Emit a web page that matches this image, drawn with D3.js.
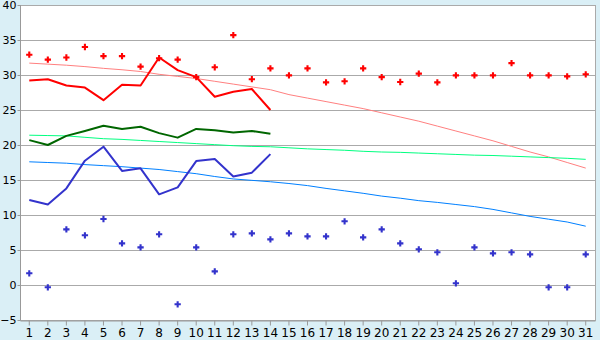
<!DOCTYPE html>
<html>
<head>
<meta charset="utf-8">
<script src="https://cdn.jsdelivr.net/npm/d3@7"></script>
<style>
  body { margin: 0; background: #daeff6; }
  svg { display: block; }
  .axis text { font-family: "DejaVu Sans", sans-serif; font-size: 12px; fill: #000; }
  .axis.y text { font-size: 11px; }
  .axis path, .axis line { stroke: #999; }
</style>
</head>
<body>
<svg id="chart" width="600" height="340"></svg>
<script>
const days = d3.range(1, 32)
const yTicks = [-5, 0, 5, 10, 15, 20, 25, 30, 35, 40]

// daily highs (scatter) and the 14-day red line
const redDots = [32.9, 32.2, 32.5, 34.0, 32.7, 32.7, 31.2, 32.4, 32.2, 29.7, 31.1, 35.7, 29.4, 30.95, 29.95, 30.95,
  28.95, 29.1, 30.95, 29.7, 29.0, 30.2, 28.95, 29.95, 29.95, 29.95, 31.7, 29.95, 29.95, 29.8, 30.1]
const redLine = [29.2, 29.4, 28.5, 28.2, 26.4, 28.6, 28.5, 32.5, 30.7, 29.7, 26.9, 27.6, 28.0, 25.0]
const redTrend = [31.7, 31.55, 31.4, 31.2, 30.95, 30.75, 30.5, 30.1, 29.8, 29.5, 29.1, 28.7, 28.3, 27.9, 27.2, 26.7,
  26.2, 25.7, 25.2, 24.6, 24.0, 23.4, 22.7, 22.0, 21.3, 20.6, 19.8, 19.0, 18.3, 17.5, 16.7]

const greenLine = [20.7, 20.0, 21.3, 22.0, 22.75, 22.3, 22.6, 21.7, 21.05, 22.3, 22.1, 21.8, 22.0, 21.6]
const greenTrend = [21.4, 21.35, 21.3, 21.1, 20.9, 20.8, 20.65, 20.5, 20.35, 20.2, 20.05, 19.9, 19.8, 19.75, 19.6, 19.45,
  19.35, 19.25, 19.1, 19.0, 18.95, 18.85, 18.75, 18.65, 18.55, 18.5, 18.4, 18.3, 18.2, 18.1, 17.95]

// daily lows (scatter) and the 14-day blue line
const blueDots = [1.67, -0.33, 7.95, 7.1, 9.43, 5.95, 5.38, 7.24, -2.76, 5.38, 1.95, 7.24, 7.38, 6.52, 7.38, 6.95,
  6.95, 9.1, 6.81, 7.95, 5.95, 5.1, 4.67, 0.24, 5.38, 4.52, 4.67, 4.38, -0.33, -0.33, 4.38]
const blueLine = [12.14, 11.5, 13.8, 17.76, 19.76, 16.3, 16.67, 12.95, 13.95, 17.7, 18.0, 15.5, 16.05, 18.7]
const blueTrend = [17.6, 17.5, 17.4, 17.2, 17.05, 16.9, 16.7, 16.5, 16.2, 15.9, 15.5, 15.15, 14.95, 14.75, 14.5, 14.2,
  13.8, 13.45, 13.1, 12.7, 12.4, 12.05, 11.8, 11.5, 11.2, 10.8, 10.3, 9.8, 9.4, 9.0, 8.4]

const plotLeft = 20, plotRight = 595, plotTop = 5, plotBottom = 320

const svg = d3.select('#chart')

const xScale = d3.scaleBand()
  .domain(days)
  .range([plotLeft, plotRight])
const xc = d => xScale(d) + xScale.bandwidth() / 2

const yScale = d3.scaleLinear()
  .domain([-5, 40])
  .range([plotBottom, plotTop])

svg.append('rect')
  .attr('x', plotLeft + 0.5)
  .attr('y', plotTop + 0.5)
  .attr('width', plotRight - plotLeft)
  .attr('height', plotBottom - plotTop)
  .style('fill', '#fff')
  .style('stroke', '#aaa')

// gridlines
svg.append('g')
  .selectAll('line')
  .data(yTicks)
  .enter()
  .append('line')
  .attr('x1', plotLeft)
  .attr('x2', plotRight)
  .attr('y1', d => Math.round(yScale(d)) + 0.5)
  .attr('y2', d => Math.round(yScale(d)) + 0.5)
  .style('stroke', '#aaa')

const yAxis = d3.axisLeft(yScale).tickValues(yTicks).tickSize(3).tickPadding(1)
svg.append('g')
  .attr('class', 'axis y')
  .attr('transform', `translate(${plotLeft + 0.5},0)`)
  .call(yAxis)
  .call(g => g.select('.domain').remove())
svg.append('line')
  .attr('x1', plotLeft + 0.5).attr('x2', plotLeft + 0.5)
  .attr('y1', plotTop).attr('y2', plotBottom)
  .style('stroke', '#999')

const xAxis = d3.axisBottom(xScale).tickSize(5).tickPadding(3).tickSizeOuter(0)
svg.append('g')
  .attr('class', 'axis')
  .attr('transform', `translate(0,${plotBottom + 0.5})`)
  .call(xAxis)

const line = d3.line()
  .x((d, i) => xc(days[i]))
  .y(d => yScale(d))

const drawLine = (data, color, width) => {
  svg.append('path')
    .datum(data)
    .attr('d', line)
    .style('fill', 'none')
    .style('stroke', color)
    .style('stroke-width', width)
    .style('stroke-linejoin', 'round')
}

drawLine(redTrend, '#ff8080', 1)
drawLine(greenTrend, '#00ff80', 1)
drawLine(blueTrend, '#0080ff', 1)
drawLine(redLine, '#ff0000', 2)
drawLine(greenLine, '#006600', 2)
drawLine(blueLine, '#3333cc', 2)

const marker = d3.symbol().type(d3.symbolCross).size(22)
const drawDots = (data, color) => {
  svg.append('g')
    .selectAll('path')
    .data(data)
    .enter()
    .append('path')
    .attr('d', marker)
    .attr('transform', (d, i) => `translate(${xc(days[i])},${yScale(d)})`)
    .style('fill', color)
}
drawDots(redDots, '#ff0000')
drawDots(blueDots, '#3333cc')
</script>
</body>
</html>
